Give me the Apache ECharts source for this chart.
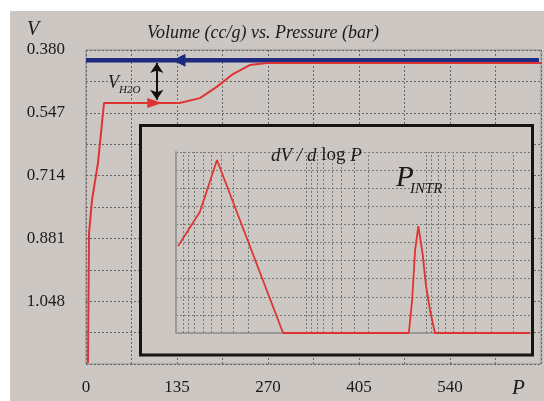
<!DOCTYPE html>
<html>
<head>
<meta charset="utf-8">
<script src="https://cdn.jsdelivr.net/npm/echarts@6/dist/echarts.min.js"></script>
<style>
html, body { margin: 0; padding: 0; }
#chart { width: 544px; height: 401px; }
</style>
</head>
<body>
<div id="chart"></div>
<script>
// main chart: volume vs pressure (V axis runs downward)
var xLabels = [0, 135, 270, 405, 540];
var yGrid = [0.380, 0.4635, 0.547, 0.6305, 0.714, 0.7975, 0.881, 0.9645, 1.048, 1.1315, 1.215];
var yLabels = [0.380, 0.547, 0.714, 0.881, 1.048];

// intrusion curve (red)
var intrusionP = [3, 4.5, 8.9, 17.8, 26.7, 139, 169, 194, 218, 243, 268, 675];
var intrusionV = [1.212, 0.867, 0.779, 0.680, 0.521, 0.521, 0.508, 0.478, 0.444, 0.420, 0.4146, 0.4146];
// extrusion curve (blue)
var extrusionP = [0, 672];
var extrusionV = [0.407, 0.407];

// inset: dV/dlogP, log pressure axis (reversed)
var insetP = [963, 643, 470, 139, 13.7, 12.9, 12.2, 11.5, 11.2, 10.6, 10.0, 9.29, 8.47, 1.47];
var insetDV = [4.8, 6.7, 9.56, 0, 0, 1.82, 4.59, 5.91, 5.97, 4.3, 2.65, 1.27, 0, 0];
var insetGridP = [879, 802, 718, 608, 525, 437, 350, 265,
                  91, 83, 74.5, 66.7, 56.5, 47.9, 37.7, 29.1,
                  10, 9, 8, 7, 6, 5, 4, 3, 2];

var serif = "'Liberation Serif', 'DejaVu Serif', serif";
var gray = '#ccc7c3';
var ink = '#1a1a1a';

function pairs(a, b) {
    var out = [];
    for (var i = 0; i < a.length; i++) out.push([a[i], b[i]]);
    return out;
}

var chart = echarts.init(document.getElementById('chart'));

var option = {
    backgroundColor : gray,
    animation : false,
    title : {
        text : 'Volume (cc/g) vs. Pressure (bar)',
        left : 142,
        top : 19,
        textStyle : {
            fontFamily : serif,
            fontStyle : 'italic',
            fontWeight : 'normal',
            fontSize : 18,
            color : ink
        }
    },
    grid : [ {
        left : 86,
        top : 50,
        right : 3,
        bottom : 37,
        show : true,
        borderColor : '#8e8e8e',
        borderWidth : 1,
        backgroundColor : 'transparent'
    }, {
        left : 176,
        top : 152,
        right : 14,
        bottom : 68
    } ],
    xAxis : [ {
        type : 'value',
        gridIndex : 0,
        min : 0,
        max : 675,
        interval : 67.5,
        z : 0,
        axisLine : { show : false },
        axisTick : { show : false },
        axisLabel : {
            customValues : xLabels,
            margin : 15,
            fontFamily : serif,
            fontSize : 17,
            color : ink
        },
        splitLine : {
            lineStyle : { color : '#666', type : [2, 2], width : 1 }
        }
    }, {
        type : 'log',
        gridIndex : 1,
        inverse : true,
        min : 1.47,
        max : 1000,
        z : 4,
        axisLine : { show : true, lineStyle : { color : '#9a9a9a', width : 2 } },
        axisTick : { show : false },
        axisLabel : { show : false },
        splitLine : { show : false }
    } ],
    yAxis : [ {
        type : 'value',
        gridIndex : 0,
        inverse : true,
        min : 0.380,
        max : 1.215,
        z : 0,
        axisLine : { show : false },
        axisTick : { show : false, customValues : yGrid },
        axisLabel : {
            customValues : yLabels,
            margin : 21,
            fontFamily : serif,
            fontSize : 17,
            color : ink,
            formatter : function(value) {
                return value.toFixed(3);
            }
        },
        splitLine : {
            lineStyle : { color : '#666', type : [2, 2], width : 1 }
        }
    }, {
        type : 'value',
        gridIndex : 1,
        min : 0,
        max : 10,
        interval : 1,
        z : 4,
        axisLine : { show : true, lineStyle : { color : '#9a9a9a', width : 2 } },
        axisTick : { show : false },
        axisLabel : { show : false },
        splitLine : {
            lineStyle : { color : '#777', type : [2, 2], width : 1 }
        }
    } ],
    graphic : [
        { type : 'rect', shape : { x : 0, y : 0, width : 544, height : 11 }, style : { fill : '#fff' }, z : 10 },
        { type : 'rect', shape : { x : 0, y : 0, width : 10, height : 401 }, style : { fill : '#fff' }, z : 10 },
        // inset frame
        { type : 'rect', shape : { x : 140.5, y : 125.5, width : 392, height : 229.5 },
          style : { fill : gray, stroke : '#151515', lineWidth : 3 }, z : 1 },
        { type : 'text', left : 27, top : 20, z : 10,
          style : { text : 'V', font : 'italic 20px ' + serif, fill : ink } },
        { type : 'text', left : 512, top : 378, z : 10,
          style : { text : 'P', font : 'italic 21px ' + serif, fill : ink } },
        { type : 'text', left : 108, top : 74, z : 10,
          style : { text : 'V', font : 'italic 18px ' + serif, fill : ink } },
        { type : 'text', left : 119, top : 85, z : 10,
          style : { text : 'H2O', font : 'italic 11px ' + serif, fill : ink } },
        { type : 'text', left : 271, top : 146, z : 10,
          style : {
              text : '{i|dV / d }{n|log}{i| P}',
              rich : {
                  i : { fontFamily : serif, fontStyle : 'italic', fontSize : 19, fill : ink },
                  n : { fontFamily : serif, fontSize : 19, fill : ink }
              }
          } },
        { type : 'text', left : 396, top : 164, z : 10,
          style : { text : 'P', font : 'italic 29px ' + serif, fill : ink } },
        { type : 'text', left : 410, top : 182, z : 10,
          style : { text : 'INTR', font : 'italic 15px ' + serif, fill : ink } }
    ],
    series : [ {
        name : 'extrusion',
        type : 'line',
        xAxisIndex : 0,
        yAxisIndex : 0,
        showSymbol : false,
        z : 3,
        lineStyle : { color : '#1d2a80', width : 4.5 },
        data : pairs(extrusionP, extrusionV),
        markPoint : {
            silent : true,
            symbol : 'triangle',
            symbolSize : [13, 13],
            symbolRotate : 90,
            itemStyle : { color : '#1d2a80' },
            label : { show : false },
            data : [ { coord : [138, 0.407] } ]
        }
    }, {
        name : 'intrusion',
        type : 'line',
        xAxisIndex : 0,
        yAxisIndex : 0,
        showSymbol : false,
        z : 3,
        lineStyle : { color : '#df3434', width : 2 },
        data : pairs(intrusionP, intrusionV),
        markPoint : {
            silent : true,
            symbol : 'triangle',
            symbolSize : [10, 15],
            symbolRotate : -90,
            itemStyle : { color : '#df3434' },
            label : { show : false },
            data : [ { coord : [102, 0.521] } ]
        },
        markLine : {
            silent : true,
            symbol : [ 'arrow', 'arrow' ],
            symbolSize : [10, 10],
            label : { show : false },
            lineStyle : { color : '#111', width : 2, type : 'solid' },
            data : [ [ { coord : [105, 0.4146] }, { coord : [105, 0.5126] } ] ]
        }
    }, {
        name : 'dV/dlogP',
        type : 'line',
        xAxisIndex : 1,
        yAxisIndex : 1,
        showSymbol : false,
        z : 6,
        lineStyle : { color : '#df3434', width : 1.8 },
        data : pairs(insetP, insetDV),
        markLine : {
            silent : true,
            symbol : 'none',
            label : { show : false },
            lineStyle : { color : '#777', type : [2, 2], width : 1 },
            data : insetGridP.map(function(p) {
                return { xAxis : p };
            })
        }
    } ]
};

chart.setOption(option);
</script>
</body>
</html>
